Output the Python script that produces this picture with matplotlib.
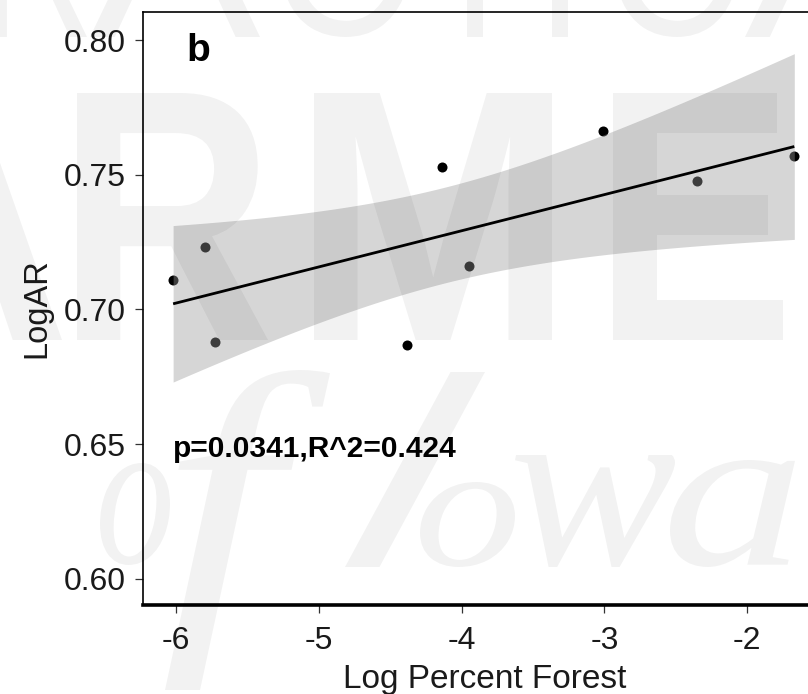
import numpy as np
import matplotlib
matplotlib.use("Agg")
import matplotlib.pyplot as plt
from matplotlib.textpath import TextPath
from matplotlib.font_manager import FontProperties
from matplotlib.patches import PathPatch
from matplotlib.transforms import Affine2D

# ---- data -------------------------------------------------------------
log_forest = [-6.02, -5.80, -5.73, -4.38, -4.14, -3.95, -3.01, -2.35, -1.67]
log_ar = [0.7109, 0.7232, 0.6880, 0.6868, 0.7529, 0.7161, 0.7662, 0.7477, 0.7570]
x_ticks = [-6, -5, -4, -3, -2]
y_ticks = [0.60, 0.65, 0.70, 0.75, 0.80]
y_tick_labels = ["0.60", "0.65", "0.70", "0.75", "0.80"]
panel_tag = "b"
stats_label = "p=0.0341,R^2=0.424"
x_title = "Log Percent Forest"
y_title = "LogAR"

plt.rcParams["font.family"] = ["Liberation Sans", "DejaVu Sans"]

W, H = 808, 694
fig = plt.figure(figsize=(W / 100, H / 100), dpi=100)
fig.patch.set_facecolor("white")

left, right, top, bottom = 143, 827, 12, 605
ax = fig.add_axes([left / W, (H - bottom) / H, (right - left) / W, (bottom - top) / H])
ax.set_facecolor("white")

x = np.asarray(log_forest)
y = np.asarray(log_ar)

# linear model with 95% confidence band (t quantile for 7 df)
slope, intercept = np.polyfit(x, y, 1)
n = len(x)
resid = y - (slope * x + intercept)
s = np.sqrt(np.sum(resid ** 2) / (n - 2))
sxx = np.sum((x - x.mean()) ** 2)
t_crit = 2.3646
xs = np.linspace(x.min(), x.max(), 200)
ys = slope * xs + intercept
se = s * np.sqrt(1.0 / n + (xs - x.mean()) ** 2 / sxx)

ax.scatter(x, y, s=52, color="black", zorder=2, linewidths=0)
ax.fill_between(xs, ys - t_crit * se, ys + t_crit * se, color="#999999",
                alpha=0.4, linewidth=0, zorder=3)
ax.plot(xs, ys, color="black", lw=2.0, zorder=4, solid_capstyle="butt")

ax.set_xlim(-6.231, -1.441)
ax.set_ylim(0.59035, 0.81039)
ax.set_xticks(x_ticks)
ax.set_xticklabels([str(v) for v in x_ticks])
ax.set_yticks(y_ticks)
ax.set_yticklabels(y_tick_labels)

ax.tick_params(axis="both", direction="out", length=6, width=0.9,
               color="#333333", labelsize=23, labelcolor="#1a1a1a")
ax.tick_params(axis="x", pad=9)
ax.tick_params(axis="y", pad=6.5)

for side in ["left", "top", "right"]:
    ax.spines[side].set_linewidth(1.2)
    ax.spines[side].set_color("black")
ax.spines["bottom"].set_linewidth(2.6)
ax.spines["bottom"].set_color("black")

ax.set_xlabel(x_title, fontsize=24, labelpad=6, color="#1a1a1a")
ax.set_ylabel(y_title, fontsize=23.5, labelpad=8, color="#1a1a1a")

ax.text(-5.93, 0.7922, panel_tag, fontsize=28, fontweight="bold",
        ha="left", va="baseline", zorder=6)
ax.text(-6.02, 0.6453, stats_label, fontsize=21.5, fontweight="bold",
        ha="left", va="baseline", zorder=6)

# ---- faint organisation watermark laid over the whole figure ----------
wm = fig.add_axes([0, 0, 1, 1], zorder=20)
wm.set_xlim(0, W)
wm.set_ylim(H, 0)
wm.axis("off")
wm.patch.set_alpha(0)

sans = FontProperties(family="Liberation Sans")
sans_bold = FontProperties(family="Liberation Sans", weight="bold")
script = FontProperties(family="Liberation Serif", style="italic")
slash = FontProperties(family="DejaVu Sans")


def glyph(ch, x0, x1, gtop, gbottom, prop):
    tp = TextPath((0, 0), ch, size=100, prop=prop)
    ext = tp.get_extents()
    sx = (x1 - x0) / ext.width
    sy = (gbottom - gtop) / ext.height
    tr = Affine2D().translate(-ext.x0, -ext.y0).scale(sx, -sy).translate(x0, gbottom)
    wm.add_patch(PathPatch(tr.transform_path(tp), fc="black", ec="none", alpha=0.05))


for ch, a, b in [("R", -8, 87), ("A", 90, 260), ("C", 281, 403), ("T", 425, 525),
                 ("I", 552, 568), ("C", 615, 732), ("A", 745, 915)]:
    glyph(ch, a, b, -113, 37, sans)

for ch, a, b in [("A", -170, 62), ("R", 77, 268), ("M", 314, 552),
                 ("E", 613, 783), ("R", 830, 1020)]:
    glyph(ch, a, b, 93, 340, sans_bold)

glyph("o", 100, 170, 463, 565, script)
glyph("f", 165, 330, 370, 690, script)
glyph("/", 345, 485, 372, 567, slash)
glyph("o", 420, 515, 482, 567, script)
glyph("w", 515, 675, 455, 567, script)
glyph("a", 670, 795, 460, 567, script)

fig.savefig("out.png", dpi=100, facecolor="white")
